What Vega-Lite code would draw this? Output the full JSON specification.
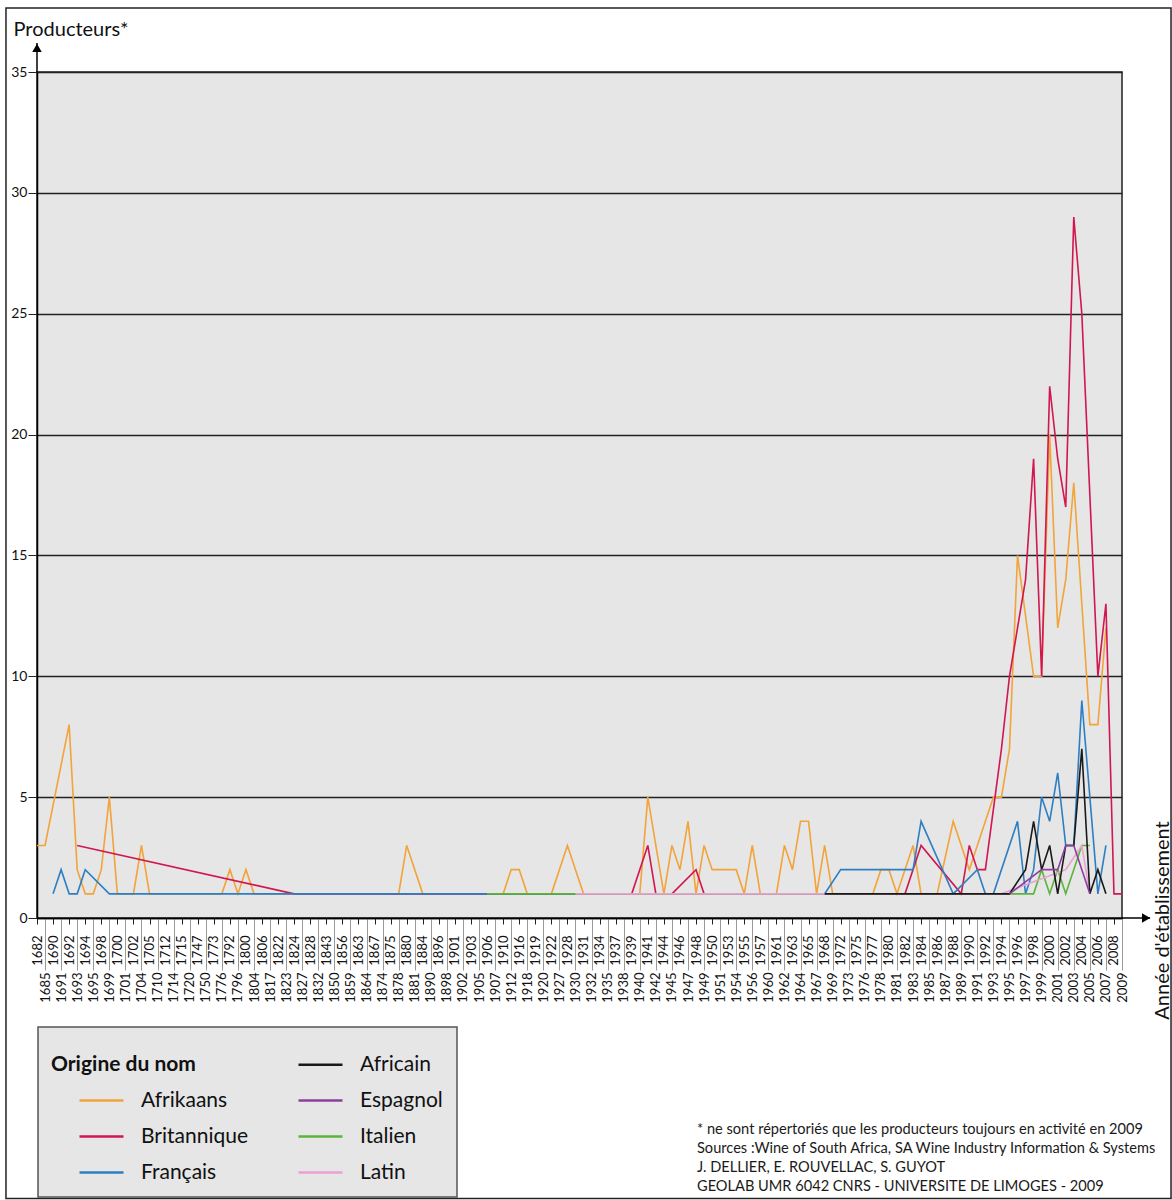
{
"$schema": "https://vega.github.io/schema/vega-lite/v6.json",
"width": 1085, "height": 846,
"autosize": "none",
"padding": {"left": 37, "top": 72, "right": 50, "bottom": 282},
"background": "white",
"config": {
  "font": "Lato",
  "view": {"fill": "#e6e6e6", "stroke": "#222", "strokeWidth": 1.5},
  "title": {"font": "Lato", "fontWeight": "normal"}
},
"title": {
  "text": ["* ne sont répertoriés que les producteurs toujours en activité en 2009", "Sources :Wine of South Africa, SA Wine Industry Information & Systems", "J. DELLIER, E. ROUVELLAC, S. GUYOT", "GEOLAB UMR 6042 CNRS - UNIVERSITE DE LIMOGES - 2009"],
  "orient": "bottom", "anchor": "start", "frame": "group", "align": "left", "baseline": "top",
  "dx": 660, "offset": -77, "fontSize": 14.6, "fontWeight": "normal", "lineHeight": 19, "color": "#1a1a1a"
},
"layer": [
{
  "data": {"values": [
{"a":"1682","o":"Af","n":3},{"a":"1685","o":"Af","n":3},{"a":"1692","o":"Af","n":8},{"a":"1693","o":"Af","n":2},{"a":"1694","o":"Af","n":1},{"a":"1695","o":"Af","n":1},{"a":"1698","o":"Af","n":2},{"a":"1699","o":"Af","n":5},{"a":"1700","o":"Af","n":1},{"a":"1702","o":"Af","n":1},{"a":"1704","o":"Af","n":3},{"a":"1705","o":"Af","n":1},{"a":"1776","o":"Af","n":1},{"a":"1792","o":"Af","n":2},{"a":"1796","o":"Af","n":1},{"a":"1800","o":"Af","n":2},{"a":"1804","o":"Af","n":1},{"a":"1878","o":"Af","n":1},{"a":"1880","o":"Af","n":3},{"a":"1884","o":"Af","n":1},{"a":"1910","o":"Af","n":1},{"a":"1912","o":"Af","n":2},{"a":"1916","o":"Af","n":2},{"a":"1918","o":"Af","n":1},{"a":"1922","o":"Af","n":1},{"a":"1928","o":"Af","n":3},{"a":"1931","o":"Af","n":1},{"a":"1940","o":"Af","n":1},{"a":"1941","o":"Af","n":5},{"a":"1944","o":"Af","n":1},{"a":"1945","o":"Af","n":3},{"a":"1946","o":"Af","n":2},{"a":"1947","o":"Af","n":4},{"a":"1948","o":"Af","n":1},{"a":"1949","o":"Af","n":3},{"a":"1950","o":"Af","n":2},{"a":"1951","o":"Af","n":2},{"a":"1953","o":"Af","n":2},{"a":"1954","o":"Af","n":2},{"a":"1955","o":"Af","n":1},{"a":"1956","o":"Af","n":3},{"a":"1957","o":"Af","n":1},{"a":"1961","o":"Af","n":1},{"a":"1962","o":"Af","n":3},{"a":"1963","o":"Af","n":2},{"a":"1964","o":"Af","n":4},{"a":"1965","o":"Af","n":4},{"a":"1967","o":"Af","n":1},{"a":"1968","o":"Af","n":3},{"a":"1969","o":"Af","n":1},{"a":"1977","o":"Af","n":1},{"a":"1978","o":"Af","n":2},{"a":"1980","o":"Af","n":2},{"a":"1981","o":"Af","n":1},{"a":"1983","o":"Af","n":3},{"a":"1984","o":"Af","n":1},{"a":"1986","o":"Af","n":1},{"a":"1988","o":"Af","n":4},{"a":"1989","o":"Af","n":3},{"a":"1990","o":"Af","n":2},{"a":"1991","o":"Af","n":3},{"a":"1992","o":"Af","n":4},{"a":"1993","o":"Af","n":5},{"a":"1994","o":"Af","n":5},{"a":"1995","o":"Af","n":7},{"a":"1996","o":"Af","n":15},{"a":"1998","o":"Af","n":10},{"a":"1999","o":"Af","n":10},{"a":"2000","o":"Af","n":20},{"a":"2001","o":"Af","n":12},{"a":"2002","o":"Af","n":14},{"a":"2003","o":"Af","n":18},{"a":"2004","o":"Af","n":13},{"a":"2005","o":"Af","n":8},{"a":"2006","o":"Af","n":8},{"a":"2007","o":"Af","n":12},
{"a":"1693","o":"Br","n":3},{"a":"1824","o":"Br","n":1},{"a":"1939","o":"Br","n":1},{"a":"1941","o":"Br","n":3},{"a":"1942","o":"Br","n":1},{"a":"1945","o":"Br","n":1},{"a":"1948","o":"Br","n":2},{"a":"1949","o":"Br","n":1},{"a":"1982","o":"Br","n":1},{"a":"1984","o":"Br","n":3},{"a":"1989","o":"Br","n":1},{"a":"1990","o":"Br","n":3},{"a":"1991","o":"Br","n":2},{"a":"1992","o":"Br","n":2},{"a":"1994","o":"Br","n":7},{"a":"1995","o":"Br","n":10},{"a":"1996","o":"Br","n":12},{"a":"1997","o":"Br","n":14},{"a":"1998","o":"Br","n":19},{"a":"1999","o":"Br","n":10},{"a":"2000","o":"Br","n":22},{"a":"2001","o":"Br","n":19},{"a":"2002","o":"Br","n":17},{"a":"2003","o":"Br","n":29},{"a":"2004","o":"Br","n":25},{"a":"2006","o":"Br","n":10},{"a":"2007","o":"Br","n":13},{"a":"2008","o":"Br","n":1},{"a":"2009","o":"Br","n":1},
{"a":"1690","o":"Fr","n":1},{"a":"1691","o":"Fr","n":2},{"a":"1692","o":"Fr","n":1},{"a":"1693","o":"Fr","n":1},{"a":"1694","o":"Fr","n":2},{"a":"1699","o":"Fr","n":1},{"a":"1700","o":"Fr","n":1},{"a":"1701","o":"Fr","n":1},{"a":"1702","o":"Fr","n":1},{"a":"1704","o":"Fr","n":1},{"a":"1705","o":"Fr","n":1},{"a":"1710","o":"Fr","n":1},{"a":"1712","o":"Fr","n":1},{"a":"1714","o":"Fr","n":1},{"a":"1715","o":"Fr","n":1},{"a":"1720","o":"Fr","n":1},{"a":"1747","o":"Fr","n":1},{"a":"1750","o":"Fr","n":1},{"a":"1773","o":"Fr","n":1},{"a":"1776","o":"Fr","n":1},{"a":"1792","o":"Fr","n":1},{"a":"1796","o":"Fr","n":1},{"a":"1800","o":"Fr","n":1},{"a":"1804","o":"Fr","n":1},{"a":"1806","o":"Fr","n":1},{"a":"1817","o":"Fr","n":1},{"a":"1822","o":"Fr","n":1},{"a":"1823","o":"Fr","n":1},{"a":"1824","o":"Fr","n":1},{"a":"1827","o":"Fr","n":1},{"a":"1828","o":"Fr","n":1},{"a":"1832","o":"Fr","n":1},{"a":"1843","o":"Fr","n":1},{"a":"1850","o":"Fr","n":1},{"a":"1856","o":"Fr","n":1},{"a":"1859","o":"Fr","n":1},{"a":"1863","o":"Fr","n":1},{"a":"1864","o":"Fr","n":1},{"a":"1867","o":"Fr","n":1},{"a":"1874","o":"Fr","n":1},{"a":"1875","o":"Fr","n":1},{"a":"1878","o":"Fr","n":1},{"a":"1880","o":"Fr","n":1},{"a":"1881","o":"Fr","n":1},{"a":"1884","o":"Fr","n":1},{"a":"1890","o":"Fr","n":1},{"a":"1896","o":"Fr","n":1},{"a":"1898","o":"Fr","n":1},{"a":"1901","o":"Fr","n":1},{"a":"1902","o":"Fr","n":1},{"a":"1903","o":"Fr","n":1},{"a":"1905","o":"Fr","n":1},{"a":"1906","o":"Fr","n":1},{"a":"1968","o":"Fr","n":1},{"a":"1972","o":"Fr","n":2},{"a":"1973","o":"Fr","n":2},{"a":"1975","o":"Fr","n":2},{"a":"1976","o":"Fr","n":2},{"a":"1977","o":"Fr","n":2},{"a":"1978","o":"Fr","n":2},{"a":"1980","o":"Fr","n":2},{"a":"1981","o":"Fr","n":2},{"a":"1982","o":"Fr","n":2},{"a":"1983","o":"Fr","n":2},{"a":"1984","o":"Fr","n":4},{"a":"1988","o":"Fr","n":1},{"a":"1991","o":"Fr","n":2},{"a":"1992","o":"Fr","n":1},{"a":"1993","o":"Fr","n":1},{"a":"1996","o":"Fr","n":4},{"a":"1997","o":"Fr","n":1},{"a":"1998","o":"Fr","n":2},{"a":"1999","o":"Fr","n":5},{"a":"2000","o":"Fr","n":4},{"a":"2001","o":"Fr","n":6},{"a":"2002","o":"Fr","n":3},{"a":"2003","o":"Fr","n":3},{"a":"2004","o":"Fr","n":9},{"a":"2006","o":"Fr","n":1},{"a":"2007","o":"Fr","n":3},
{"a":"1906","o":"It","n":1},{"a":"1907","o":"It","n":1},{"a":"1910","o":"It","n":1},{"a":"1912","o":"It","n":1},{"a":"1916","o":"It","n":1},{"a":"1918","o":"It","n":1},{"a":"1919","o":"It","n":1},{"a":"1920","o":"It","n":1},{"a":"1922","o":"It","n":1},{"a":"1927","o":"It","n":1},{"a":"1928","o":"It","n":1},{"a":"1930","o":"It","n":1},{"a":"1995","o":"It","n":1},{"a":"1996","o":"It","n":1},{"a":"1997","o":"It","n":1},{"a":"1998","o":"It","n":1},{"a":"1999","o":"It","n":2},{"a":"2000","o":"It","n":1},{"a":"2001","o":"It","n":2},{"a":"2002","o":"It","n":1},{"a":"2004","o":"It","n":3},{"a":"2005","o":"It","n":3},
{"a":"1930","o":"La","n":1},{"a":"1931","o":"La","n":1},{"a":"1932","o":"La","n":1},{"a":"1934","o":"La","n":1},{"a":"1935","o":"La","n":1},{"a":"1937","o":"La","n":1},{"a":"1938","o":"La","n":1},{"a":"1939","o":"La","n":1},{"a":"1940","o":"La","n":1},{"a":"1941","o":"La","n":1},{"a":"1942","o":"La","n":1},{"a":"1944","o":"La","n":1},{"a":"1945","o":"La","n":1},{"a":"1946","o":"La","n":1},{"a":"1947","o":"La","n":1},{"a":"1948","o":"La","n":1},{"a":"1949","o":"La","n":1},{"a":"1950","o":"La","n":1},{"a":"1951","o":"La","n":1},{"a":"1953","o":"La","n":1},{"a":"1954","o":"La","n":1},{"a":"1955","o":"La","n":1},{"a":"1956","o":"La","n":1},{"a":"1957","o":"La","n":1},{"a":"1960","o":"La","n":1},{"a":"1961","o":"La","n":1},{"a":"1962","o":"La","n":1},{"a":"1963","o":"La","n":1},{"a":"1964","o":"La","n":1},{"a":"1965","o":"La","n":1},{"a":"1967","o":"La","n":1},{"a":"1968","o":"La","n":1},{"a":"1994","o":"La","n":1},{"a":"2002","o":"La","n":2},{"a":"2004","o":"La","n":3},{"a":"2005","o":"La","n":1},
{"a":"1968","o":"Ak","n":1},{"a":"1969","o":"Ak","n":1},{"a":"1972","o":"Ak","n":1},{"a":"1973","o":"Ak","n":1},{"a":"1975","o":"Ak","n":1},{"a":"1976","o":"Ak","n":1},{"a":"1977","o":"Ak","n":1},{"a":"1978","o":"Ak","n":1},{"a":"1980","o":"Ak","n":1},{"a":"1981","o":"Ak","n":1},{"a":"1982","o":"Ak","n":1},{"a":"1983","o":"Ak","n":1},{"a":"1984","o":"Ak","n":1},{"a":"1985","o":"Ak","n":1},{"a":"1986","o":"Ak","n":1},{"a":"1987","o":"Ak","n":1},{"a":"1988","o":"Ak","n":1},{"a":"1989","o":"Ak","n":1},{"a":"1990","o":"Ak","n":1},{"a":"1991","o":"Ak","n":1},{"a":"1992","o":"Ak","n":1},{"a":"1993","o":"Ak","n":1},{"a":"1994","o":"Ak","n":1},{"a":"1995","o":"Ak","n":1},{"a":"1997","o":"Ak","n":2},{"a":"1998","o":"Ak","n":4},{"a":"1999","o":"Ak","n":2},{"a":"2000","o":"Ak","n":3},{"a":"2001","o":"Ak","n":1},{"a":"2002","o":"Ak","n":3},{"a":"2003","o":"Ak","n":3},{"a":"2004","o":"Ak","n":7},{"a":"2005","o":"Ak","n":1},{"a":"2006","o":"Ak","n":2},{"a":"2007","o":"Ak","n":1},
{"a":"1995","o":"Es","n":1},{"a":"1999","o":"Es","n":2},{"a":"2000","o":"Es","n":2},{"a":"2001","o":"Es","n":2},{"a":"2002","o":"Es","n":3},{"a":"2003","o":"Es","n":3},{"a":"2005","o":"Es","n":1}
  ]},
  "mark": {"type": "line", "strokeWidth": 1.6, "clip": false},
  "encoding": {
    "x": {"field": "a", "type": "ordinal", "scale": {"type": "point", "padding": 0},
      "axis": {"title": "Année d'établissement", "titleAngle": 270, "titleX": 1125, "titleY": 2, "titleAlign": "center", "titleBaseline": "middle", "titleFontSize": 20, "titleFontWeight": "normal", "titleColor": "#111",
        "labelAngle": 270, "labelAlign": "right", "labelBaseline": "middle", "labelFontSize": 13, "labelColor": "#111", "labelOverlap": false,
        "domainColor": "#000", "domainWidth": 1.5,
        "tickSize": {"condition": {"test": "round(datum.index * 135) % 2 === 1", "value": 52}, "value": 6},
        "labelPadding": {"condition": {"test": "round(datum.index * 135) % 2 === 1", "value": 2}, "value": 11},
        "tickColor": {"condition": {"test": "round(datum.index * 135) % 2 === 1", "value": "#999"}, "value": "#222"}}},
    "y": {"field": "n", "type": "quantitative", "scale": {"domain": [0, 35], "nice": false},
      "axis": {"title": "Producteurs*", "titleAngle": 0, "titleX": -24, "titleY": -37, "titleAlign": "left", "titleBaseline": "alphabetic", "titleFontSize": 20, "titleFontWeight": "normal", "titleColor": "#111",
        "values": [0, 5, 10, 15, 20, 25, 30, 35], "tickSize": 9, "labelPadding": 1, "labelFontSize": 14, "labelColor": "#111",
        "domainColor": "#000", "domainWidth": 1.5, "tickColor": "#222", "grid": true, "gridColor": "#222", "gridWidth": 1.3, "gridOpacity": 1}},
    "color": {"field": "o", "type": "nominal",
      "scale": {"domain": ["T", "Af", "Br", "Fr", "Ak", "Es", "It", "La"], "range": ["transparent", "#f2a33a", "#d2164f", "#2e7fc2", "#1a1a1a", "#8d3ea0", "#5cb43c", "#e9a2cf"]},
      "legend": {"orient": "none", "legendX": 1, "legendY": 955, "title": null, "columns": 2,
        "fillColor": "#e6e6e6", "strokeColor": "#555", "padding": 14,
        "symbolType": "stroke", "symbolSize": 1936, "symbolStrokeWidth": 2.5, "symbolOffset": 26,
        "labelFontSize": 21, "labelOffset": 16, "labelColor": "#111", "labelLimit": 300,
        "columnPadding": 22, "rowPadding": 2,
        "labelExpr": "{T:'Origine du nom', Ak:'Africain', Af:'Afrikaans', Es:'Espagnol', Br:'Britannique', It:'Italien', Fr:'Français', La:'Latin'}[datum.label]",
        "encode": {
          "legend": {"update": {"strokeWidth": {"value": 1.5}}},
          "labels": {"update": {"fontWeight": {"signal": "datum.value === 'T' ? 'bold' : 'normal'"}, "dx": {"signal": "datum.value === 'T' ? -90 : 0"}}}}}}
  }
},
{
  "data": {"values": [{}]},
  "mark": {"type": "rule", "color": "#000", "strokeWidth": 1.5, "clip": false},
  "encoding": {
    "x": {"datum": 135, "type": "quantitative", "scale": {"domain": [0, 135], "nice": false, "zero": false}, "axis": null},
    "x2": {"datum": 138.5},
    "y": {"datum": 0, "type": "quantitative"}
  }
},
{
  "data": {"values": [{}]},
  "mark": {"type": "point", "shape": "triangle-right", "filled": true, "color": "#000", "size": 90, "opacity": 1, "clip": false},
  "encoding": {
    "x": {"datum": 138.0, "type": "quantitative", "scale": {"domain": [0, 135], "nice": false, "zero": false}, "axis": null},
    "y": {"datum": 0, "type": "quantitative"}
  }
},
{
  "data": {"values": [{}]},
  "mark": {"type": "rule", "color": "#000", "strokeWidth": 1.5, "clip": false},
  "encoding": {
    "x": {"datum": 0, "type": "quantitative", "scale": {"domain": [0, 135], "nice": false, "zero": false}, "axis": null},
    "y": {"datum": 35, "type": "quantitative"},
    "y2": {"datum": 36.2}
  }
},
{
  "data": {"values": [{}]},
  "mark": {"type": "point", "shape": "triangle-up", "filled": true, "color": "#000", "size": 90, "opacity": 1, "clip": false},
  "encoding": {
    "x": {"datum": 0, "type": "quantitative", "scale": {"domain": [0, 135], "nice": false, "zero": false}, "axis": null},
    "y": {"datum": 36.0, "type": "quantitative"}
  }
},
{
  "data": {"values": [{}]},
  "mark": {"type": "rect", "fill": "transparent", "stroke": "#222", "strokeWidth": 1.5, "clip": false},
  "encoding": {
    "x": {"datum": -3.86, "type": "quantitative", "scale": {"domain": [0, 135], "nice": false, "zero": false}, "axis": null},
    "x2": {"datum": 141.1},
    "y": {"datum": -11.6, "type": "quantitative"},
    "y2": {"datum": 37.65}
  }
}
],
"resolve": {"scale": {"x": "independent"}}
}
